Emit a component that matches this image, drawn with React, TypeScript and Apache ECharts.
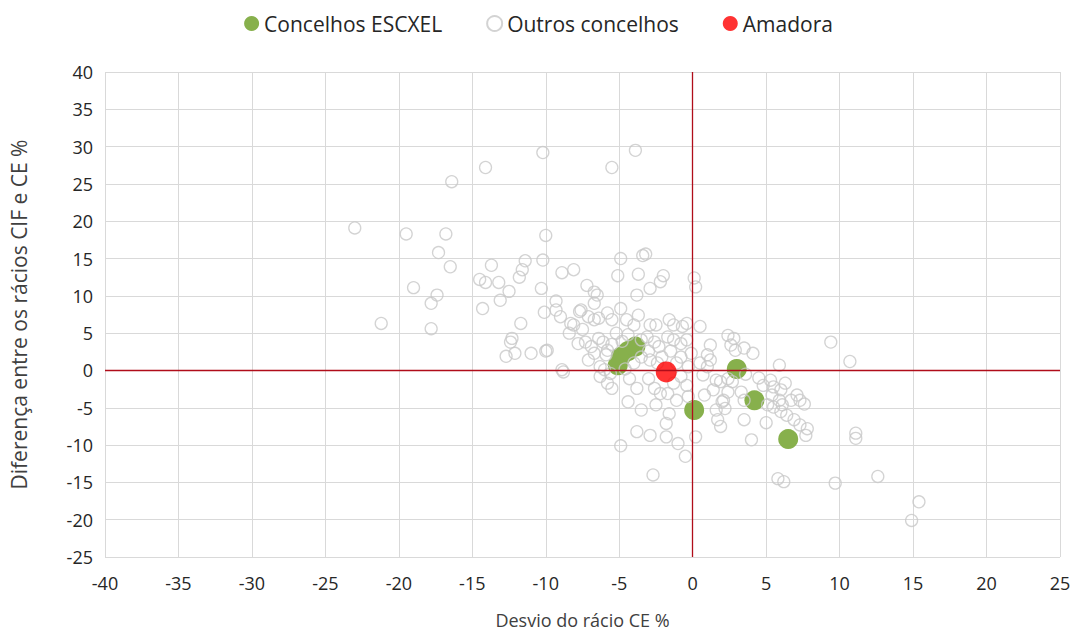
import React, { useEffect, useRef } from "react";
import * as echarts from "echarts";

const xTicks = [-40, -35, -30, -25, -20, -15, -10, -5, 0, 5, 10, 15, 20, 25];
const yTicks = [-25, -20, -15, -10, -5, 0, 5, 10, 15, 20, 25, 30, 35, 40];

const seriesNames = ["Concelhos ESCXEL", "Outros concelhos", "Amadora"];

const escxel: number[][] = [
  [-5.1, 0.7], [-4.9, 1.8], [-4.4, 2.6], [-3.9, 3.2],
  [0.1, -5.3], [3.0, 0.2], [4.2, -4.0], [6.5, -9.2],
];

const amadora: number[][] = [[-1.8, -0.2]];

const outros: number[][] = [
  [-23.0, 19.1], [-21.2, 6.3], [-19.5, 18.3], [-19.0, 11.1], [-17.4, 10.1], [-17.8, 9.0],
  [-17.8, 5.6], [-16.8, 18.3], [-17.3, 15.8], [-16.5, 13.9], [-16.4, 25.3],
  [-14.1, 27.2], [-13.7, 14.1], [-14.5, 12.2], [-14.1, 11.8], [-13.2, 11.8], [-12.5, 10.6],
  [-13.1, 9.4], [-14.3, 8.3], [-11.4, 14.7], [-11.6, 13.5], [-11.8, 12.5], [-11.7, 6.3],
  [-12.3, 4.3], [-12.4, 3.8], [-12.7, 1.9], [-12.1, 2.3], [-11.0, 2.3],
  [-10.2, 29.2], [-10.0, 18.1], [-10.2, 14.8], [-10.3, 11.0], [-10.1, 7.8], [-10.0, 2.6],
  [-5.5, 27.2], [-3.9, 29.5], [-4.9, 15.0], [-3.2, 15.6], [-3.4, 15.4], [-3.7, 12.9],
  [-2.0, 12.7], [-5.1, 12.7], [-2.2, 11.9], [-8.9, 13.1], [-8.1, 13.5], [0.1, 12.4], [0.2, 11.2],
  [-7.2, 11.4], [-6.7, 10.5], [-6.5, 10.1], [-2.9, 11.0], [-3.8, 10.1], [-9.3, 9.3], [-7.6, 8.1],
  [-9.0, 7.2], [-8.3, 6.3], [-8.1, 6.1], [-7.1, 7.2], [-6.7, 6.8], [-6.4, 7.0], [-5.8, 7.7],
  [-5.5, 6.8], [-4.9, 8.3], [-4.5, 6.8], [-4.0, 6.1], [-2.9, 6.1], [-2.5, 6.1], [-1.6, 6.8],
  [-1.3, 6.1], [-0.7, 5.9], [-0.4, 6.3], [-7.7, 7.9], [-6.7, 9.0], [-3.7, 7.4], [-9.3, 8.1],
  [-9.9, 2.7], [-8.9, 0.1], [-7.8, 3.6], [-7.3, 3.8], [-6.9, 3.2], [-6.7, 2.3], [-6.4, 4.3],
  [-6.1, 3.8], [-5.9, 2.1], [-5.8, 2.7], [-7.1, 1.4], [-6.3, 0.5], [-6.0, 0.1], [-3.5, 4.1],
  [-3.1, 4.5], [-2.6, 3.8], [-2.3, 3.2], [-1.7, 4.5], [-1.3, 4.1], [-0.8, 3.6], [-0.4, 4.1],
  [-3.5, 1.8], [-2.9, 1.4], [-2.4, 1.0], [-2.1, 1.8], [-0.8, 1.8], [-0.1, 2.3], [-0.3, 0.5],
  [-8.4, 5.0], [-7.5, 5.5], [-5.2, 5.0], [-4.4, 4.8], [-5.5, 3.5], [-4.8, 3.9], [-3.0, 2.6],
  [-1.5, 2.6], [-1.1, 1.0], [-4.0, 1.0], [-4.6, 0.2], [-5.6, -0.4],
  [-8.8, -0.2], [-6.3, -0.8], [-5.8, -1.7], [-5.5, -2.4], [-4.3, -1.1], [-3.8, -2.4],
  [-3.0, -1.1], [-2.6, -2.4], [-2.2, -3.1], [-1.7, -3.1], [-1.3, -1.7], [-0.8, -0.8],
  [-0.4, -2.0], [-4.4, -4.2], [-3.5, -5.3], [-2.5, -4.6], [-1.6, -5.8], [-1.8, -7.1],
  [-3.8, -8.2], [-2.9, -8.7], [-1.8, -8.9], [-1.0, -9.8], [-0.5, -11.5], [-4.9, -10.1],
  [-2.7, -14.0], [0.2, -8.9], [-1.1, -4.0], [-0.3, -3.5],
  [0.5, 5.9], [2.4, 4.7], [2.8, 4.3], [2.6, 3.4], [2.9, 2.7], [3.5, 3.0], [4.1, 2.3],
  [1.2, 3.4], [1.0, 2.1], [1.2, 1.4], [5.9, 0.7], [9.4, 3.8], [10.7, 1.2], [0.7, -0.6],
  [1.6, -1.3], [1.9, -1.5], [2.4, -1.1], [2.7, -1.5], [0.8, -3.3], [1.4, -2.6], [2.4, -2.9],
  [2.1, -4.0], [3.3, -2.9], [3.5, -4.0], [5.3, -1.3], [5.5, -2.2], [6.0, -2.6], [6.3, -1.7],
  [5.4, -3.3], [5.9, -4.0], [6.1, -4.6], [6.7, -4.0], [7.1, -3.3], [7.3, -4.0], [6.0, -5.5],
  [6.4, -6.0], [6.9, -6.6], [7.3, -7.3], [1.6, -5.3], [1.7, -6.6], [1.9, -7.5], [3.5, -6.6],
  [7.8, -7.8], [7.7, -8.7], [4.0, -9.3], [5.8, -14.5], [6.2, -14.9], [9.7, -15.1],
  [12.6, -14.2], [11.1, -8.4], [11.1, -9.1], [15.4, -17.6], [14.9, -20.1], [2.2, -5.1],
  [2.0, -4.2], [5.1, -4.6], [5.5, -4.9], [1.0, 0.5], [0.5, 1.0], [3.6, -0.5], [4.5, -1.0],
  [4.8, -2.0], [7.6, -4.5], [5.0, -7.0],
];

export default function App() {
  const ref = useRef<HTMLDivElement>(null);
  useEffect(() => {
    if (!ref.current) return;
    const chart = echarts.init(ref.current, undefined, { renderer: "svg" });
    const font = "'Open Sans', 'Noto Sans', sans-serif";
    chart.setOption({
      animation: false,
      backgroundColor: "#ffffff",
      textStyle: { fontFamily: font },
      legend: {
        top: 8,
        left: "center",
        itemGap: 44,
        itemWidth: 15,
        itemHeight: 15,
        icon: "circle",
        textStyle: { fontSize: 21, color: "#262626", fontFamily: font },
        data: seriesNames,
      },
      grid: { left: 104, right: 17, top: 72, bottom: 78 },
      xAxis: {
        type: "value",
        min: xTicks[0],
        max: xTicks[xTicks.length - 1],
        interval: 5,
        name: "Desvio do rácio CE %",
        nameLocation: "middle",
        nameGap: 54,
        nameTextStyle: { fontSize: 18, color: "#404040" },
        axisLine: { show: false },
        axisTick: { show: false },
        axisLabel: { fontSize: 18, color: "#262626", margin: 17 },
        splitLine: { show: true, lineStyle: { color: "#d9d9d9", width: 1 } },
      },
      yAxis: {
        type: "value",
        min: yTicks[0],
        max: yTicks[yTicks.length - 1],
        interval: 5,
        name: "Diferença entre os rácios CIF e CE %",
        nameLocation: "middle",
        nameGap: 76,
        nameTextStyle: { fontSize: 21, color: "#404040" },
        axisLine: { show: false },
        axisTick: { show: false },
        axisLabel: { fontSize: 18, color: "#262626", margin: 12 },
        splitLine: { show: true, lineStyle: { color: "#d9d9d9", width: 1 } },
      },
      series: [
        {
          name: seriesNames[0],
          type: "scatter",
          data: escxel,
          symbolSize: 20,
          itemStyle: { color: "#87b04c", opacity: 1 },
          z: 2,
          markLine: {
            silent: true,
            symbol: "none",
            label: { show: false },
            lineStyle: { color: "#b00d1a", width: 1.3, type: "solid" },
            data: [{ xAxis: 0 }, { yAxis: 0 }],
          },
        },
        {
          name: seriesNames[1],
          type: "scatter",
          data: outros,
          symbolSize: 12,
          itemStyle: { color: "rgba(255,255,255,0)", borderColor: "#c8c8c8", borderWidth: 1.3 },
          z: 3,
        },
        {
          name: seriesNames[2],
          type: "scatter",
          data: amadora,
          symbolSize: 21,
          itemStyle: { color: "#ff0000" },
          z: 4,
        },
      ],
    });
    return () => chart.dispose();
  }, []);
  return (
    <div
      ref={ref}
      style={{ position: "fixed", left: 0, top: 0, width: 1077, height: 635, background: "#fff" }}
    />
  );
}
